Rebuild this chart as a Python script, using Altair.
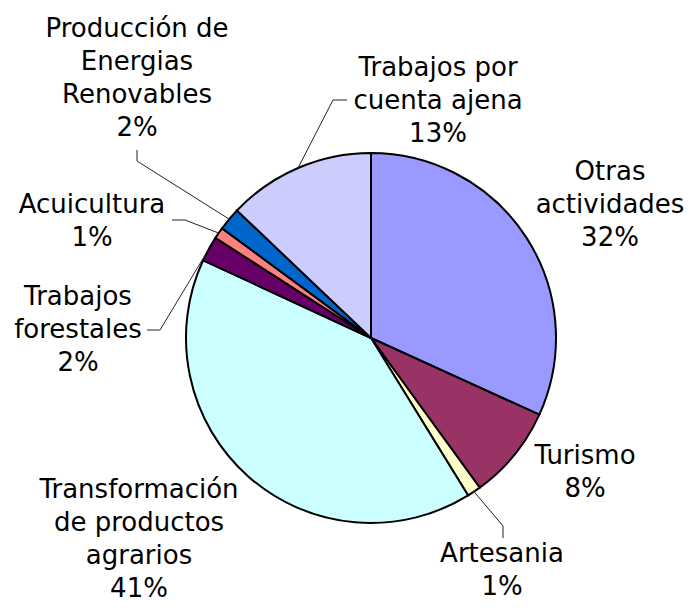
import math
import altair as alt
import pandas as pd

# ---- data ----
categories = [
    "Otras actividades",
    "Turismo",
    "Artesania",
    "Transformación de productos agrarios",
    "Trabajos forestales",
    "Acuicultura",
    "Producción de Energias Renovables",
    "Trabajos por cuenta ajena",
]
values = [31.8, 8.2, 1.2, 40.7, 2.2, 1.0, 2.0, 12.9]
label_text = [
    ["Otras", "actividades"],
    ["Turismo"],
    ["Artesania"],
    ["Transformación", "de productos", "agrarios"],
    ["Trabajos", "forestales"],
    ["Acuicultura"],
    ["Producción de", "Energias", "Renovables"],
    ["Trabajos por", "cuenta ajena"],
]
colors = ["#9999FF", "#993366", "#FFFFCC", "#CCFFFF", "#660066", "#FF8080", "#0066CC", "#CCCCFF"]

# ---- layout / style (pixels within the chart) ----
CX, CY, R = 363, 330, 185
FONT = "DejaVu Sans"
FONT_SIZE = 26
LINE_H = 33
label_pos = {  # centre x, first baseline y
    "Otras actividades": (602, 172),
    "Turismo": (577, 456),
    "Artesania": (494, 554),
    "Transformación de productos agrarios": (131, 490),
    "Trabajos forestales": (70, 297),
    "Acuicultura": (84, 205),
    "Producción de Energias Renovables": (129, 29),
    "Trabajos por cuenta ajena": (430, 68),
}
leader_pts = {  # bend point, end point
    "Artesania": [(495, 518), (495, 530)],
    "Trabajos forestales": [(152, 322), (139, 322)],
    "Acuicultura": [(177, 212), (164, 212)],
    "Producción de Energias Renovables": [(129, 153), (129, 142)],
    "Trabajos por cuenta ajena": [(325, 92), (339, 92)],
}

total = sum(values)
pie_df = pd.DataFrame({"cat": categories, "value": values, "idx": list(range(len(values)))})

# labels
rows = []
for c, v, lines in zip(categories, values, label_text):
    lx, ly = label_pos[c]
    rows.append({"cat": c, "text": "\n".join(lines + [f"{round(v / total * 100)}%"]), "lx": lx, "ly": ly})
text_df = pd.DataFrame(rows)

# leader lines: start on the pie edge at the slice's mid angle
line_rows = []
cum = 0.0
for c, v in zip(categories, values):
    mid = (cum + v / 2) / total * 2 * math.pi
    cum += v
    if c in leader_pts:
        sx = CX + R * math.sin(mid)
        sy = CY - R * math.cos(mid)
        pts = [(sx, sy)] + leader_pts[c]
        for k, (px, py) in enumerate(pts):
            line_rows.append({"cat": c, "k": k, "px": px, "py": py})
line_df = pd.DataFrame(line_rows)

pie = alt.Chart(pie_df).mark_arc(radius=R, stroke="black", strokeWidth=2).encode(
    theta=alt.Theta("value:Q", stack=True),
    order=alt.Order("idx:Q"),
    color=alt.Color("cat:N", scale=alt.Scale(domain=categories, range=colors), legend=None),
    x=alt.value(CX),
    y=alt.value(CY),
)

leaders = alt.Chart(line_df).mark_line(color="#222222", strokeWidth=1).encode(
    x=alt.X("px:Q", scale=None, axis=None),
    y=alt.Y("py:Q", scale=None, axis=None),
    detail="cat:N",
    order="k:Q",
)

labels = alt.Chart(text_df).mark_text(
    font=FONT, fontSize=FONT_SIZE, lineBreak="\n", lineHeight=LINE_H,
    align="center", baseline="alphabetic", color="black",
).encode(
    x=alt.X("lx:Q", scale=None, axis=None),
    y=alt.Y("ly:Q", scale=None, axis=None),
    text="text:N",
)

chart = alt.layer(pie, leaders, labels).properties(
    width=676, height=595, padding=0,
    autosize=alt.AutoSizeParams(type="none"),
).configure_view(stroke=None)

chart.save("out.html", embed_options={"renderer": "svg", "actions": False})
